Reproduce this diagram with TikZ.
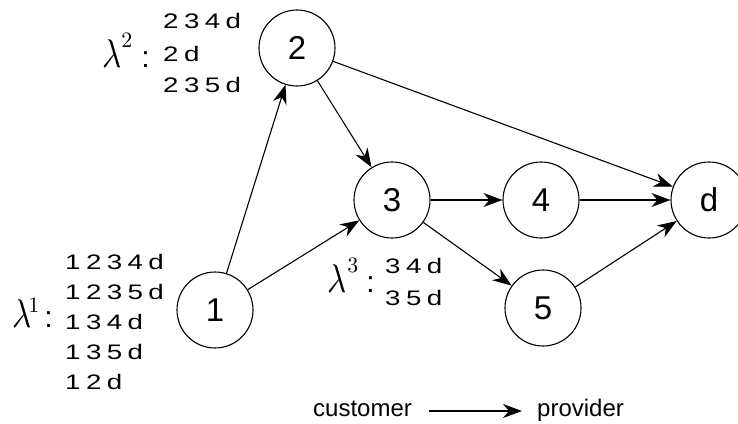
\documentclass[tikz,border=0pt]{standalone}
\usepackage{graphicx}
\usepackage{fontspec}
\setmainfont{Liberation Sans}
\usetikzlibrary{arrows.meta}
\newcommand\gp{\hspace{4.1pt}}
\newcommand\wide[1]{\scalebox{1.32}[1]{#1}}
\newcommand\lamlab[4]{\scalebox{3.3}[4.0]{$\lambda$}\kern#2\raisebox{#4}{\scalebox{2.2}{$#1$}}\hspace{#3}{\fontsize{30}{30}\selectfont :}}
\begin{document}
\begin{tikzpicture}[x=1pt,y=-1pt,
  vertex/.style={circle,draw,line width=1.1pt,minimum size=76pt,inner sep=0pt,font=\fontsize{33}{33}\selectfont},
  arr/.style={line width=1.1pt,-{Stealth[length=19pt,width=14pt,inset=6pt]}},
  pathtxt/.style={anchor=base west,inner sep=0pt,font=\fontsize{21}{21}\selectfont},
  lam/.style={anchor=base west,inner sep=0pt},
  legend/.style={anchor=base west,inner sep=0pt,font=\fontsize{24}{24}\selectfont}]
\useasboundingbox (0,0) rectangle (738,423);
% vertices
\node[vertex] (n1) at (215,310) {1};
\node[vertex] (n2) at (297,48) {2};
\node[vertex] (n3) at (392,200) {3};
\node[vertex] (n4) at (541,200) {4};
\node[vertex] (n5) at (543,308) {5};
\node[vertex] (nd) at (709,200) {d};
% edges
\draw[arr] (n1) -- (n2);
\draw[arr] (n1) -- (n3);
\draw[arr] (n2) -- (n3);
\draw[arr] (n2) -- (nd);
\draw[arr] (n3) -- (n4);
\draw[arr] (n4) -- (nd);
\draw[arr] (n3) -- (n5);
\draw[arr] (n5) -- (nd);
% lambda 1
\node[lam] (l1) at (12,327) {\lamlab{1}{-3pt}{5pt}{15pt}};
\node[pathtxt] (p11) at (65,269) {\wide{1\gp 2\gp 3\gp 4\gp d}};
\node[pathtxt] (p12) at (65,299) {\wide{1\gp 2\gp 3\gp 5\gp d}};
\node[pathtxt] (p13) at (65,329) {\wide{1\gp 3\gp 4\gp d}};
\node[pathtxt] (p14) at (65,359) {\wide{1\gp 3\gp 5\gp d}};
\node[pathtxt] (p15) at (65,389) {\wide{1\gp 2\gp d}};
% lambda 2
\node[lam] (l2) at (102,67) {\lamlab{2}{0pt}{9pt}{20pt}};
\node[pathtxt] (p21) at (163,28) {\wide{2\gp 3\gp 4\gp d}};
\node[pathtxt] (p22) at (163,61) {\wide{2\gp d}};
\node[pathtxt] (p23) at (163,92) {\wide{2\gp 3\gp 5\gp d}};
% lambda 3
\node[lam] (l3) at (327,292) {\lamlab{3}{1pt}{8pt}{20pt}};
\node[pathtxt] (p31) at (385,273) {\wide{3\gp 4\gp d}};
\node[pathtxt] (p32) at (385,305) {\wide{3\gp 5\gp d}};
% legend
\node[legend] (cust) at (313,416) {customer};
\node[legend] (prov) at (537,416) {provider};
\draw[arr] ([xshift=17pt,yshift=5pt]cust.base east) -- ([xshift=-15pt,yshift=5pt]prov.base west);
\end{tikzpicture}
\end{document}
